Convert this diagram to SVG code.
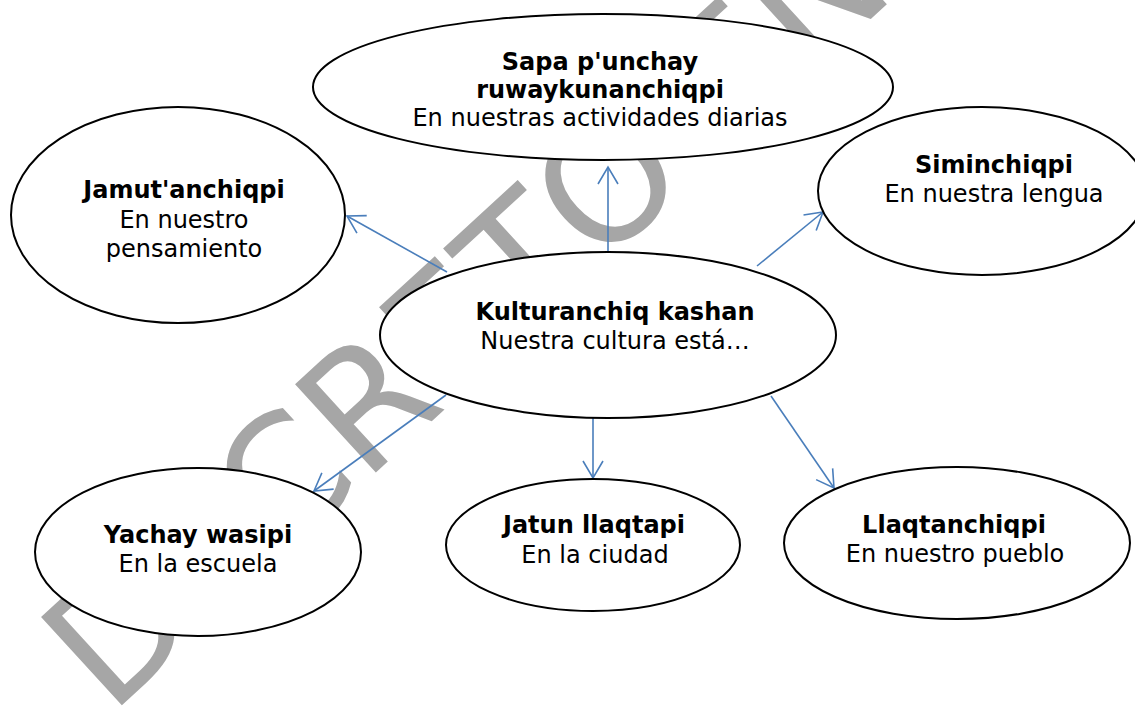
<svg xmlns="http://www.w3.org/2000/svg" width="1135" height="714" viewBox="0 0 1135 714">
<style>
.node ellipse{fill:#fff;stroke:#000;stroke-width:2}
.node text{font-family:"DejaVu Sans",Verdana,sans-serif;font-size:24px;fill:#000;text-anchor:middle}
.node .b{font-weight:bold}
.conn line{stroke:#4a7ebb;stroke-width:1.6;fill:none;marker-end:url(#arr)}
.wm{font-family:"DejaVu Sans",sans-serif;font-size:164px;fill:#a6a6a6}
</style>
<defs>
<marker id="arr" markerUnits="userSpaceOnUse" markerWidth="24" markerHeight="24" viewBox="-20 -12 22 24" refX="0" refY="0" orient="auto">
<path d="M-17,-10 L0,0 L-17,10" fill="none" stroke="#4a7ebb" stroke-width="1.6"/>
</marker>
</defs>
<rect width="1135" height="714" fill="#fff"/>
<g id="watermark">
<text class="wm" transform="translate(110,716) rotate(-42.5)">DECRETO EN</text>
</g>
<g id="connectors" class="conn">
<line x1="608" y1="252" x2="608" y2="167"/>
<line x1="447" y1="272" x2="347" y2="216"/>
<line x1="757" y1="266" x2="823" y2="212"/>
<line x1="446" y1="395" x2="314" y2="491"/>
<line x1="593" y1="418" x2="593" y2="478"/>
<line x1="771" y1="396" x2="834" y2="488"/>
</g>
<g id="sapa" class="node">
<ellipse cx="603" cy="87" rx="290" ry="73"/>
<text x="600" y="70" class="b">Sapa p'unchay</text>
<text x="600" y="98" class="b">ruwaykunanchiqpi</text>
<text x="600" y="126">En nuestras actividades diarias</text>
</g>
<g id="jamut" class="node">
<ellipse cx="178" cy="215" rx="167" ry="108"/>
<text x="184" y="198" class="b">Jamut'anchiqpi</text>
<text x="184" y="228">En nuestro</text>
<text x="184" y="257">pensamiento</text>
</g>
<g id="siminchiqpi" class="node">
<ellipse cx="982" cy="191" rx="164" ry="84"/>
<text x="994" y="173" class="b">Siminchiqpi</text>
<text x="994" y="202">En nuestra lengua</text>
</g>
<g id="kulturanchiq" class="node">
<ellipse cx="608" cy="335" rx="228" ry="83"/>
<text x="615" y="320" class="b">Kulturanchiq kashan</text>
<text x="615" y="349">Nuestra cultura está…</text>
</g>
<g id="yachay" class="node">
<ellipse cx="198" cy="552" rx="163" ry="84"/>
<text x="198" y="543" class="b">Yachay wasipi</text>
<text x="198" y="572">En la escuela</text>
</g>
<g id="jatun" class="node">
<ellipse cx="593" cy="545" rx="147" ry="66"/>
<text x="594" y="533" class="b">Jatun llaqtapi</text>
<text x="595" y="563">En la ciudad</text>
</g>
<g id="llaqtanchiqpi" class="node">
<ellipse cx="957" cy="543" rx="173" ry="76"/>
<text x="954" y="533" class="b">Llaqtanchiqpi</text>
<text x="955" y="562">En nuestro pueblo</text>
</g>
</svg>
